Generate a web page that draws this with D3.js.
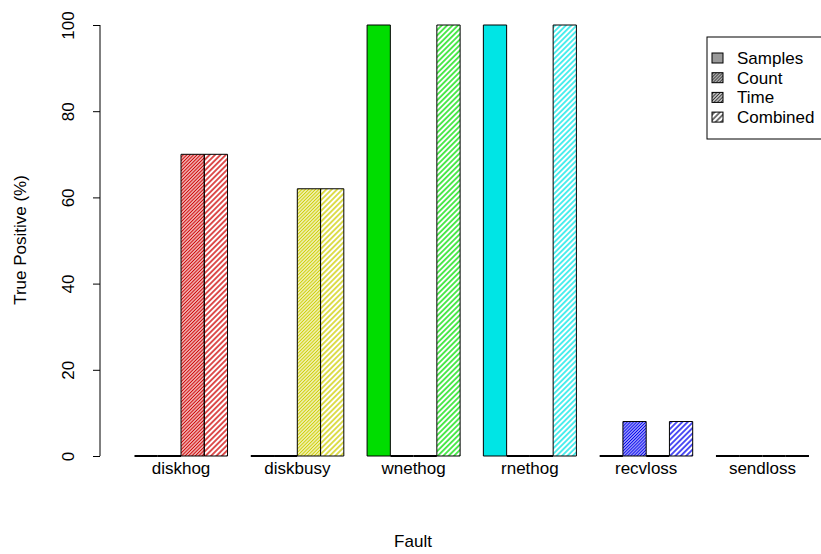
<!DOCTYPE html>
<html>
<head>
<meta charset="utf-8">
<script src="https://cdn.jsdelivr.net/npm/d3@7"></script>
<style>
  html, body { margin: 0; padding: 0; background: #fff; }
  svg { display: block; font-family: "Liberation Sans", Arial, Helvetica, sans-serif; }
</style>
</head>
<body>
<svg id="chart" width="821" height="554"></svg>
<script>
// Fault categories and their colours
const faults = ["diskhog", "diskbusy", "wnethog", "rnethog", "recvloss", "sendloss"];
const faultColors = ["#CD0000", "#CDCD00", "#00DD00", "#00E5E5", "#0000EE", "#000000"];

// Detection methods (one bar each per fault)
const methods = ["Samples", "Count", "Time", "Combined"];

// True positive rate (%) per method, in fault order
const samples  = [0,  0,  100, 100, 0, 0];
const count    = [0,  0,  0,   0,   8, 0];
const timeVals = [70, 62, 0,   0,   0, 0];
const combined = [70, 62, 100, 100, 8, 0];

const yTicks = [0, 20, 40, 60, 80, 100];

const seriesValues = [samples, count, timeVals, combined];

const FS = 17;
const svg = d3.select("#chart");

// Scales
const x0 = d3.scaleBand().domain(faults).range([122.87, 820.61])
  .paddingInner(0.2).paddingOuter(0.1);
const x1 = d3.scaleBand().domain(methods).range([0, x0.bandwidth()]);
const y = d3.scaleLinear().domain([0, 100]).range([456, 25]);

// Hatch spacing (horizontal distance between lines, px); Samples is solid
const hatchStep = { Count: 3.1, Time: 3.4, Combined: 5.4 };

const defs = svg.append("defs");
function hatchId(method, color) { return "h-" + method + "-" + color.slice(1); }
function addHatch(method, color) {
  const d = hatchStep[method] / Math.SQRT2;
  const p = defs.append("pattern")
    .attr("id", hatchId(method, color))
    .attr("patternUnits", "userSpaceOnUse")
    .attr("width", d).attr("height", 10)
    .attr("patternTransform", "rotate(45)");
  p.append("line")
    .attr("x1", d / 2).attr("x2", d / 2)
    .attr("y1", 0).attr("y2", 10)
    .attr("stroke", color).attr("stroke-width", 1.35);
}
faultColors.forEach(c => ["Count", "Time", "Combined"].forEach(m => addHatch(m, c)));
["Count", "Time", "Combined"].forEach(m => addHatch(m, "#333333"));

// Bars (drawn as paths so zero-height bars still show their outline)
const bars = [];
faults.forEach((f, i) => {
  methods.forEach((m, j) => {
    bars.push({ fault: f, method: m, value: seriesValues[j][i], color: faultColors[i] });
  });
});

svg.append("g").selectAll("path")
  .data(bars)
  .join("path")
  .attr("d", d => {
    const xl = x0(d.fault) + x1(d.method);
    const w = x1.bandwidth();
    const top = y(d.value), base = y(0);
    return `M${xl},${base}V${top}H${xl + w}V${base}Z`;
  })
  .attr("fill", d => d.value === 0 ? "none" :
    (d.method === "Samples" ? d.color : `url(#${hatchId(d.method, d.color)})`))
  .attr("stroke", "#000")
  .attr("stroke-width", d => d.value === 0 ? 1.8 : 1);

// Y axis
const axisX = 100;
const yAxis = d3.axisLeft(y).tickValues(yTicks).tickSize(7).tickPadding(0).tickFormat(d3.format("d"));
const gy = svg.append("g").attr("transform", `translate(${axisX},0)`).call(yAxis);
gy.select(".domain").attr("d", `M0,${y(0)}V${y(100)}`).attr("stroke", "#000");
gy.selectAll(".tick line").attr("stroke", "#000");
gy.selectAll(".tick text")
  .attr("x", 0).attr("dy", null)
  .attr("transform", "translate(-30,0) rotate(-90)")
  .attr("text-anchor", "middle")
  .attr("dominant-baseline", "middle")
  .attr("font-size", FS).attr("font-family", null).attr("fill", "#000");

// X category labels
svg.append("g").selectAll("text")
  .data(faults)
  .join("text")
  .attr("x", d => x0(d) + x0.bandwidth() / 2)
  .attr("y", 474)
  .attr("text-anchor", "middle")
  .attr("font-size", FS)
  .text(d => d);

// Axis titles
svg.append("text").attr("x", 413).attr("y", 547)
  .attr("text-anchor", "middle").attr("font-size", FS).text("Fault");
svg.append("text").attr("transform", "translate(26,240) rotate(-90)")
  .attr("text-anchor", "middle").attr("font-size", FS).text("True Positive (%)");

// Legend
const lg = svg.append("g").attr("transform", "translate(707,37)");
lg.append("rect").attr("x", 0).attr("y", 0).attr("width", 130).attr("height", 102)
  .attr("fill", "#fff").attr("stroke", "#000").attr("stroke-width", 1);
const rows = lg.selectAll("g.row").data(methods).join("g")
  .attr("class", "row")
  .attr("transform", (d, i) => `translate(0,${21 + i * 19.7})`);
rows.append("rect")
  .attr("x", 5).attr("y", -5).attr("width", 11).attr("height", 10)
  .attr("fill", d => d === "Samples" ? "#999999" : `url(#${hatchId(d, "#333333")})`)
  .attr("stroke", "#000").attr("stroke-width", 1);
rows.append("text")
  .attr("x", 30).attr("y", 0).attr("dy", "0.35em")
  .attr("font-size", FS)
  .text(d => d);
</script>
</body>
</html>
